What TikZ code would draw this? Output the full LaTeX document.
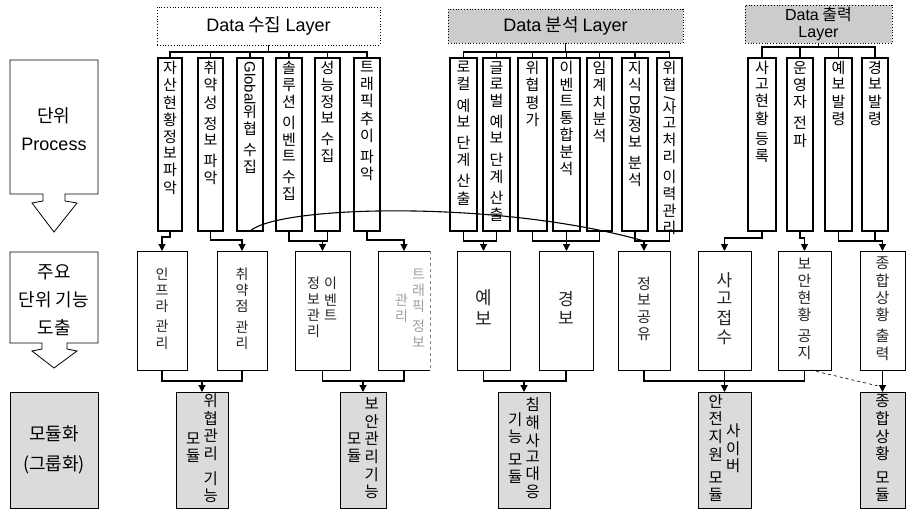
\documentclass[tikz,border=0pt]{standalone}
\usepackage{fontspec}
\usepackage{graphicx}
\setmainfont{Noto Sans CJK KR}
\newfontfamily\lat{Liberation Sans}
\usetikzlibrary{arrows.meta}

\ExplSyntaxOn
\tl_new:N \l__vt_tl
\bool_new:N \l__vt_first_bool
\bool_new:N \l__vt_gap_bool
\NewDocumentCommand \vt { O{c} m }
  {
    \tl_clear:N \l__vt_tl
    \bool_set_true:N \l__vt_first_bool
    \bool_set_false:N \l__vt_gap_bool
    \tl_map_inline:nn { #2 }
      {
        \tl_if_eq:nnTF { ##1 } { | }
          { \bool_set_true:N \l__vt_gap_bool }
          {
            \bool_if:NF \l__vt_first_bool
              {
                \bool_if:NTF \l__vt_gap_bool
                  { \tl_put_right:Nn \l__vt_tl { \\ [ \vtgap ] } }
                  { \tl_put_right:Nn \l__vt_tl { \\ } }
              }
            \tl_put_right:Nn \l__vt_tl { ##1 }
            \bool_set_false:N \l__vt_first_bool
            \bool_set_false:N \l__vt_gap_bool
          }
      }
    \begin{tabular}[#1]{@{}c@{}}
      \tl_use:N \l__vt_tl
    \end{tabular}
  }
\ExplSyntaxOff
\newcommand\vtgap{4pt}
\newcommand\rot[1]{\raisebox{11pt}{\rotatebox{-90}{\lat #1}}}
\newcommand\bx[6]{\node[#6,minimum width={(#4-#2)*1pt},minimum height={(#5-#3)*1pt}] (#1) at ({(#2+#4)/2},{(#3+#5)/2}) {};}

\begin{document}
\begin{tikzpicture}[x=1pt,y=-1pt,
  conn/.style={line width=1.1pt},
  arr/.style={line width=1.1pt,-{Triangle[length=7pt,width=7pt]}},
  colbox/.style={draw,line width=1.2pt,inner sep=0pt,outer sep=0pt},
  fnbox/.style={draw,line width=1pt,inner sep=0pt,outer sep=0pt},
  plainbox/.style={inner sep=0pt,outer sep=0pt},
  modbox/.style={draw,line width=0.8pt,fill=gray!28,inner sep=0pt,outer sep=0pt},
  hdr/.style={draw,dotted,line width=0.8pt,inner sep=0pt,outer sep=0pt},
  hdrtxt/.style={inner sep=0pt,align=center,font={\fontsize{18}{16}\selectfont}},
  coltxt/.style={inner sep=0pt,anchor=north,font={\fontsize{15}{16}\selectfont}},
  ftxt/.style={inner sep=0pt,text=black!85,font={\fontsize{14}{15.5}\selectfont}},
  modtxt/.style={inner sep=0pt,font={\fontsize{15.5}{16}\selectfont\renewcommand\vtgap{7pt}}},
  lefttxt/.style={inner sep=0pt,align=center,font={\fontsize{18}{28}\selectfont}},
  blk/.style={draw,line width=0.8pt,line join=miter}
]
\useasboundingbox (0,0) rectangle (906,512);

% ---------- left process column ----------
\draw[blk] (10,60) -- (98,60) -- (98,194) -- (65,194) -- (65,201) -- (77,203) -- (54,232)
  -- (32,203) -- (43,201) -- (43,194) -- (10,194) -- cycle;
\node[lefttxt] (l1) at (54,129) {단위\\{\lat\fontsize{18}{28}\selectfont Process}};
\draw[blk] (10,252) -- (98,252) -- (98,343) -- (67,343) -- (67,349) -- (77,351) -- (54,368)
  -- (32,351) -- (42,349) -- (42,343) -- (10,343) -- cycle;
\node[lefttxt] (l2) at (54,300) {주요\\단위 기능\\도출};
\bx{l3box}{10}{392}{98}{508}{modbox}
\node[lefttxt,font={\fontsize{18}{30}\selectfont}] (l3) at (l3box) {모듈화\\(그룹화)};

% ---------- layer headers ----------
\bx{h1}{157}{7}{380}{45}{hdr}
\node[hdrtxt] (th1) at (h1) {{\lat Data} 수집 {\lat Layer}};
\bx{h2}{448}{9}{683}{43}{hdr,fill=gray!40}
\node[hdrtxt] (th2) at (h2) {{\lat Data} 분석 {\lat Layer}};
\bx{h3}{745}{5}{892}{43}{hdr,fill=gray!40}
\node[hdrtxt,font={\fontsize{16}{16.5}\selectfont}] (th3) at (h3) {{\lat Data} 출력\\{\lat Layer}};

% ---------- row 1 : unit processes ----------
\bx{c1}{158}{58}{182}{231}{colbox}
\bx{c2}{198}{58}{223}{231}{colbox}
\bx{c3}{237}{58}{263}{231}{colbox}
\bx{c4}{276}{58}{302}{231}{colbox}
\bx{c5}{315}{58}{340}{231}{colbox}
\bx{c6}{354}{58}{380}{231}{colbox}
\bx{a1}{450}{58}{477}{231}{colbox}
\bx{a2}{483}{58}{510}{231}{colbox}
\bx{a3}{518}{58}{547}{231}{colbox}
\bx{a4}{553}{58}{580}{231}{colbox}
\bx{a5}{587}{58}{612}{231}{colbox}
\bx{a6}{622}{58}{648}{231}{colbox}
\bx{a7}{657}{58}{682}{231}{colbox}
\bx{o1}{748}{58}{776}{231}{colbox}
\bx{o2}{787}{58}{813}{231}{colbox}
\bx{o3}{825}{58}{852}{231}{colbox}
\bx{o4}{862}{58}{888}{231}{colbox}

\node[coltxt] (tc1) at ([yshift=-3pt]c1.north) {\vt{자산현황정보파악}};
\node[coltxt] (tc2) at ([yshift=-3pt]c2.north) {\vt{취약성|정보|파악}};
\node[coltxt] (tc3) at ([yshift=-3pt]c3.north) {\vt{{\rot{\fontsize{15}{15}\selectfont Global}}|위협|수집}};
\node[coltxt] (tc4) at ([yshift=-3pt]c4.north) {\vt{솔루션|이벤트|수집}};
\node[coltxt] (tc5) at ([yshift=-3pt]c5.north) {\vt{성능정보|수집}};
\node[coltxt] (tc6) at ([yshift=-3pt]c6.north) {\vt{트래픽추이|파악}};
\node[coltxt] (ta1) at ([yshift=-3pt]a1.north) {\vt{로컬|예보|단계|산출}};
\node[coltxt] (ta2) at ([yshift=-3pt]a2.north) {\vt{글로벌|예보|단계|산출}};
\node[coltxt] (ta3) at ([yshift=-3pt]a3.north) {\vt{위협평가}};
\node[coltxt] (ta4) at ([yshift=-3pt]a4.north) {\vt{이벤트통합분석}};
\node[coltxt] (ta5) at ([yshift=-3pt]a5.north) {\vt{임계치분석}};
\node[coltxt] (ta6) at ([yshift=-3pt]a6.north) {\vt{지식{\rot{\fontsize{14}{14}\selectfont DB/}}정보|분석}};
\node[coltxt,font={\fontsize{15}{15.4}\selectfont}] (ta7) at ([yshift=-3pt]a7.north)
  {\begin{tabular}{@{}c@{}}위\\협\\[-10pt]\rotatebox{-90}{\lat\fontsize{15}{15}\selectfont /}\\사\\고\\처\\리\\[3pt]이\\력\\관\\리\end{tabular}};
\node[coltxt] (to1) at ([yshift=-3pt]o1.north) {\vt{사고현황|등록}};
\node[coltxt] (to2) at ([yshift=-3pt]o2.north) {\vt{운영자|전파}};
\node[coltxt] (to3) at ([yshift=-3pt]o3.north) {\vt{예보발령}};
\node[coltxt] (to4) at ([yshift=-3pt]o4.north) {\vt{경보발령}};

% header brackets
\coordinate (yh1) at (0,52);
\coordinate (yh3) at (0,47);
\draw[conn] (h1.south) -- (h1.south |- yh1);
\draw[conn] (c1.north) |- (c6.north |- yh1) -- (c6.north);
\foreach \n in {c2,c3,c4,c5} \draw[conn] (\n.north) -- (\n.north |- yh1);
\draw[conn] (h2.south) -- (h2.south |- yh1);
\draw[conn] (a1.north) |- (a7.north |- yh1) -- (a7.north);
\foreach \n in {a2,a3,a4,a5,a6} \draw[conn] (\n.north) -- (\n.north |- yh1);
\draw[conn] (h3.south) -- (h3.south |- yh3);
\draw[conn] (o1.north) |- (o4.north |- yh3) -- (o4.north);
\foreach \n in {o2,o3} \draw[conn] (\n.north) -- (\n.north |- yh3);

% ---------- row 2 : main unit functions ----------
\bx{f1}{137}{251}{187}{370}{fnbox}
\bx{f2}{217}{251}{267}{370}{fnbox}
\bx{f3}{295}{251}{350}{370}{fnbox}
\bx{f4}{378}{251}{430}{370}{plainbox}
\bx{f5}{457}{251}{510}{370}{fnbox}
\bx{f6}{539}{251}{593}{370}{fnbox}
\bx{f7}{618}{251}{670}{370}{fnbox}
\bx{f8}{698}{251}{751}{370}{fnbox}
\bx{f9}{778}{251}{831}{370}{fnbox}
\bx{f10}{860}{251}{905}{370}{fnbox}
\draw[line width=1pt] (f4.north east) -- (f4.north west) -- (f4.south west) -- (f4.south east);
\draw[line width=1pt,dashed,gray] (f4.north east) -- (f4.south east);

\node[ftxt] (tf1) at (f1) {\vt{인프라|관리}};
\node[ftxt] (tf2) at (f2) {\vt{취약점|관리}};
\node[ftxt,anchor=north] (tf3) at (322,277) {\vt[t]{정보관리}\hspace{4pt}\vt[t]{이벤트}};
\node[ftxt,text=gray!75] (tf4) at (410,310) {\vt{관리}\hspace{4pt}\vt{트래픽|정보}};
\node[ftxt,font={\fontsize{18}{21}\selectfont}] (tf5) at (f5) {\vt{예보}};
\node[ftxt,font={\fontsize{17}{19}\selectfont}] (tf6) at (f6) {\vt{경보}};
\node[ftxt,font={\fontsize{15}{16.5}\selectfont}] (tf7) at (f7) {\vt{정보공유}};
\node[ftxt,font={\fontsize{17}{18}\selectfont}] (tf8) at (f8) {\vt{사고접수}};
\node[ftxt,font={\fontsize{15}{15.8}\selectfont}] (tf9) at (f9) {\vt{보안현황|공지}};
\node[ftxt,font={\fontsize{15}{16}\selectfont}] (tf10) at (f10) {\vt{종합상황|출력}};

% ---------- row 3 : modules ----------
\bx{m1}{176}{392}{228}{508}{modbox}
\bx{m2}{340}{392}{386}{508}{modbox}
\bx{m3}{498}{392}{550}{508}{modbox}
\bx{m4}{698}{392}{751}{508}{modbox}
\bx{m5}{860}{392}{905}{508}{modbox}
\node[modtxt] (tm1) at (m1) {\vt{모듈}\hspace{3pt}\vt{위협관리|기능}};
\node[modtxt] (tm2) at (m2) {\vt{모듈}\hspace{3pt}\vt{보안관리기능}};
\node[modtxt] (tm3) at (m3) {\vt{기능|모듈}\hspace{3pt}\vt{침해사고대응}};
\node[modtxt] (tm4) at (m4) {\vt{안전지원|모듈}\hspace{3pt}\vt{사이버}};
\node[modtxt] (tm5) at (m5) {\vt{종합상황|모듈}};

% ---------- connectors row 1 -> row 2 ----------
\coordinate (ya) at (0,241);
\coordinate (yo) at (0,238);
\draw[arr] (c1.south) -- ++(0,6) -| (f1.north);
\draw[arr] (c2.south) -- ++(0,9) -| (f2.north);
\draw[conn] (c4.south) |- (c5.south |- ya) -- (c5.south);
\draw[arr] (f3.north |- ya) -- (f3.north);
\draw[arr] (c6.south) -- ++(0,9) -| (f4.north);
\draw[conn] (c3.south) .. controls (280,205) and (500,200) .. (f7.north |- ya);
\draw[conn] (a1.south) |- (a2.south |- ya) -- (a2.south);
\draw[arr] (f5.north |- ya) -- (f5.north);
\draw[conn] (a3.south) |- (a5.south |- ya) -- (a5.south);
\draw[arr] (a4.south) -- (a4.south |- f6.north);
\draw[conn] (a6.south) |- (a7.south |- ya) -- (a7.south);
\draw[arr] (f7.north |- ya) -- (f7.north);
\draw[arr] (o1.south) -- (o1.south |- yo) -| (f8.north);
\draw[arr] (o2.south) -- (o2.south |- yo) -| (f9.north);
\draw[conn] (o3.south) |- (f10.north |- ya);
\draw[conn] (o4.south) -- (o4.south |- ya);
\draw[arr] (f10.north |- ya) -- (f10.north);

% ---------- connectors row 2 -> row 3 ----------
\coordinate (yr) at (0,381);
\draw[conn] (f1.south) |- (f2.south |- yr) -- (f2.south);
\draw[arr] (m1.north |- yr) -- (m1.north);
\draw[conn] (f3.south) |- (f4.south |- yr) -- (f4.south);
\draw[arr] (m2.north |- yr) -- (m2.north);
\draw[conn] (f5.south) |- (f6.south |- yr) -- (f6.south);
\draw[arr] (m3.north |- yr) -- (m3.north);
\draw[conn] (f7.south) |- (f9.south |- yr) -- (f9.south);
\draw[arr] (f8.south) -- (m4.north);
\draw[arr] (f10.south) -- (m5.north);
\draw[dashed,line width=0.6pt] ([xshift=6pt]f9.south) -- ([yshift=5pt]m5.north);
\end{tikzpicture}
\end{document}
